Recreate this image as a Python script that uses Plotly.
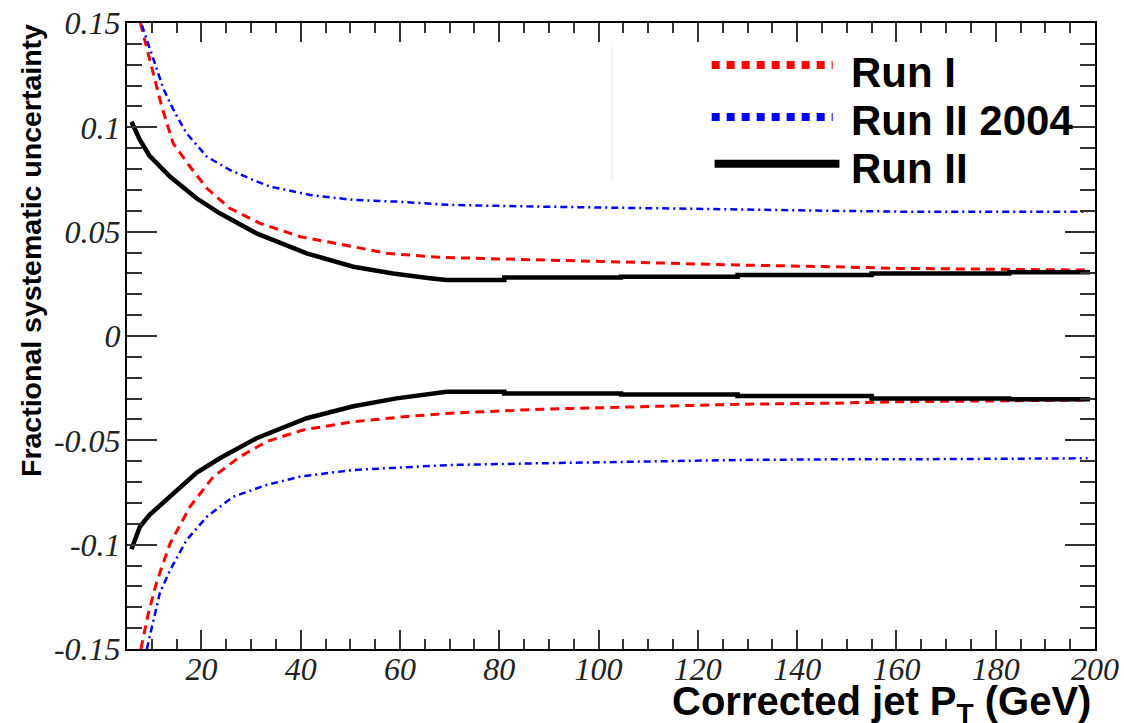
import plotly.graph_objects as go

# Fractional jet energy scale systematic uncertainty vs corrected jet pT
run1_up_x = [7.7, 8.6, 9.4, 10.5, 12.0, 14.3, 17.7, 21.1, 25.7, 31.8, 39.9, 50.6, 57.3, 68.0, 88.2, 108.3, 128.5, 147.2, 160.7, 198.5]
run1_up_y = [0.150, 0.1419, 0.134, 0.124, 0.110, 0.0923, 0.0811, 0.0708, 0.0612, 0.054, 0.0476, 0.0428, 0.0396, 0.0377, 0.0364, 0.0351, 0.034, 0.0332, 0.0324, 0.0316]
run1_dn_x = [7.8, 9.3, 11.0, 13.7, 17.7, 22.4, 27.8, 33.1, 40.5, 50.6, 60.7, 70.1, 88.2, 108.3, 128.5, 147.2, 160.7, 198.5]
run1_dn_y = [-0.150, -0.1329, -0.1177, -0.0993, -0.0818, -0.0674, -0.0578, -0.0506, -0.045, -0.0411, -0.0387, -0.037, -0.0351, -0.0339, -0.0327, -0.0322, -0.0315, -0.0307]

run2004_up_x = [8.0, 9.3, 10.6, 12.3, 13.7, 15.3, 17.0, 21.1, 25.7, 30.4, 33.8, 41.9, 50.6, 59.3, 70.1, 88.2, 108.3, 128.5, 147.2, 160.7, 198.5]
run2004_up_y = [0.149, 0.1403, 0.1307, 0.1187, 0.1115, 0.1043, 0.0971, 0.0859, 0.0796, 0.0748, 0.0716, 0.0676, 0.0652, 0.0644, 0.0628, 0.062, 0.0612, 0.0604, 0.060, 0.0596, 0.0595]
run2004_dn_x = [9.0, 10.0, 11.6, 13.7, 17.0, 21.1, 26.4, 33.1, 39.8, 50.6, 60.7, 70.1, 88.2, 108.3, 128.5, 147.2, 160.7, 198.5]
run2004_dn_y = [-0.150, -0.1393, -0.1233, -0.1121, -0.0978, -0.0866, -0.077, -0.0714, -0.0674, -0.0642, -0.0629, -0.0618, -0.061, -0.0602, -0.0594, -0.0591, -0.0591, -0.0586]

run2_up_x = [5.9, 7.6, 9.5, 13.7, 19.0, 23.7, 31.1, 41.2, 50.6, 58.6, 66.0, 69.4, 69.4, 81.0, 81.0, 104.5, 104.5, 128.0, 128.0, 155.0, 155.0, 182.7, 182.7, 199.0]
run2_up_y = [0.1027, 0.094, 0.0865, 0.0763, 0.066, 0.0588, 0.0492, 0.0396, 0.0332, 0.030, 0.0277, 0.0272, 0.0268, 0.0268, 0.028, 0.028, 0.0284, 0.0284, 0.0292, 0.0292, 0.030, 0.030, 0.0305, 0.0305]
run2_dn_x = [5.9, 7.6, 9.5, 13.7, 19.0, 23.7, 31.1, 41.2, 50.6, 59.3, 66.0, 69.4, 69.4, 81.0, 81.0, 104.5, 104.5, 128.0, 128.0, 155.0, 155.0, 182.7, 182.7, 199.0]
run2_dn_y = [-0.1022, -0.0914, -0.0858, -0.077, -0.0656, -0.0586, -0.049, -0.0394, -0.0337, -0.0299, -0.0278, -0.0272, -0.0267, -0.0267, -0.0275, -0.0275, -0.028, -0.028, -0.0288, -0.0288, -0.0299, -0.0299, -0.0303, -0.0303]

x_tick_vals = [20, 40, 60, 80, 100, 120, 140, 160, 180, 200]
x_tick_text = ["20", "40", "60", "80", "100", "120", "140", "160", "180", "200"]
y_tick_vals = [-0.15, -0.1, -0.05, 0, 0.05, 0.1, 0.15]
y_tick_text = ["-0.15", "-0.1", "-0.05", "0", "0.05", "0.1", "0.15"]

legend_labels = ["Run I", "Run II 2004", "Run II"]

RED = "#ff0000"
BLUE = "#0000ff"
BLACK = "#000000"

fig = go.Figure()

red_line = dict(color=RED, width=3, dash="9px,6px")
blue_line = dict(color=BLUE, width=2.5, dash="7px,4px,2px,4px")
black_line = dict(color=BLACK, width=4.5)

for xs, ys, ln in [
    (run1_up_x, run1_up_y, red_line),
    (run1_dn_x, run1_dn_y, red_line),
    (run2004_up_x, run2004_up_y, blue_line),
    (run2004_dn_x, run2004_dn_y, blue_line),
    (run2_up_x, run2_up_y, black_line),
    (run2_dn_x, run2_dn_y, black_line),
]:
    fig.add_trace(go.Scatter(x=xs, y=ys, mode="lines", line=ln,
                             showlegend=False, hoverinfo="skip"))

tick_font = dict(family="Liberation Serif, Times New Roman, serif", size=32,
                 color="#222222", style="italic")
bold_font = "Liberation Sans, Arial, sans-serif"

fig.update_xaxes(
    range=[5, 200], showgrid=False, zeroline=False, automargin=False,
    showline=True, linecolor="black", linewidth=2, mirror="ticks",
    ticks="inside", ticklen=19, tickwidth=1.5, tickcolor="#333333",
    tickmode="array", tickvals=x_tick_vals, ticktext=x_tick_text,
    tickfont=tick_font, ticklabelstandoff=-9,
    minor=dict(ticks="inside", ticklen=10, tickwidth=1.5, tickcolor="#333333",
               tickmode="linear", tick0=0, dtick=5),
)
fig.update_yaxes(
    range=[-0.15, 0.15], showgrid=False, zeroline=False, automargin=False,
    showline=True, linecolor="black", linewidth=2, mirror="ticks",
    ticks="inside", ticklen=30, tickwidth=1.5, tickcolor="#333333",
    tickmode="array", tickvals=y_tick_vals, ticktext=y_tick_text,
    tickfont=tick_font, ticklabelstandoff=-2,
    minor=dict(ticks="inside", ticklen=15, tickwidth=1.5, tickcolor="#333333",
               tickmode="linear", tick0=0, dtick=0.01),
)

# Hand-drawn legend in the upper right of the frame
legend_rows = [
    (0.933, 0.921, dict(color=RED, width=8, dash="8px,7px"), 0.604, 0.729),
    (0.850, 0.845, dict(color=BLUE, width=8, dash="8px,7px"), 0.604, 0.729),
    (0.775, 0.768, dict(color=BLACK, width=8), 0.607, 0.736),
]
shapes = []
annotations = []
for (ly, ty, ln, x0, x1), label in zip(legend_rows, legend_labels):
    shapes.append(dict(type="line", xref="paper", yref="paper",
                       x0=x0, x1=x1, y0=ly, y1=ly, line=ln))
    annotations.append(dict(xref="paper", yref="paper", x=0.746, y=ty,
                            xanchor="left", yanchor="middle", showarrow=False,
                            text=label,
                            font=dict(family=bold_font, size=42, color="black",
                                      weight="bold")))

# faint vertical stroke in the upper middle
shapes.append(dict(type="line", xref="paper", yref="paper",
                   x0=0.501, x1=0.501, y0=0.749, y1=0.962,
                   line=dict(color="#eeeeee", width=1.5)))

annotations.append(dict(xref="paper", yref="paper", x=0.998, y=-0.088,
                        xanchor="right", yanchor="middle", showarrow=False,
                        text="Corrected jet P<sub>T</sub> (GeV)",
                        font=dict(family=bold_font, size=40, color="black",
                                  weight="bold")))
annotations.append(dict(xref="paper", yref="paper", x=-0.099, y=0.636,
                        xanchor="center", yanchor="middle", showarrow=False,
                        textangle=-90, text="Fractional systematic uncertainty",
                        font=dict(family=bold_font, size=28.5, color="black",
                                  weight="bold")))

fig.update_layout(
    width=1124, height=723,
    margin=dict(l=127, r=29, t=23, b=74),
    paper_bgcolor="white", plot_bgcolor="white",
    shapes=shapes, annotations=annotations,
    showlegend=False,
)

fig.write_html("out.html")
